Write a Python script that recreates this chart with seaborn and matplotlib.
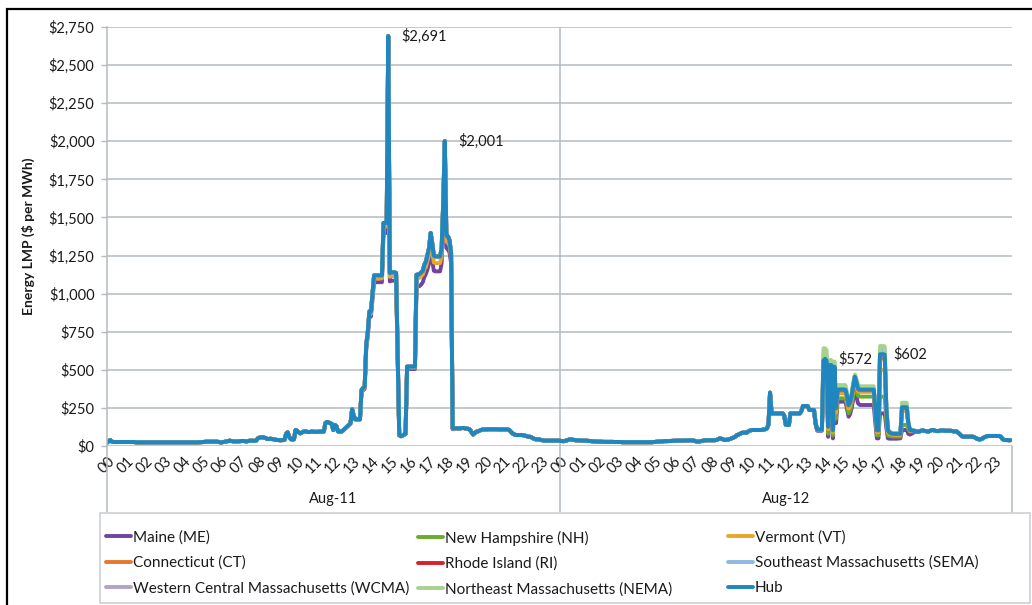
import matplotlib
matplotlib.use("Agg")
import matplotlib.pyplot as plt
import matplotlib.transforms as mtransforms
from matplotlib.lines import Line2D
from matplotlib.patches import Rectangle
import numpy as np
import pandas as pd
import seaborn as sns

# ---------------- data (5-minute LMPs, $/MWh) ----------------
zones = ["Maine (ME)", "New Hampshire (NH)", "Vermont (VT)",
         "Connecticut (CT)", "Rhode Island (RI)", "Southeast Massachusetts (SEMA)",
         "Western Central Massachusetts (WCMA)", "Northeast Massachusetts (NEMA)", "Hub"]
zone_colors = ["#7044A0", "#6AAB2E", "#E9A62B", "#E8772E", "#D81F2A",
               "#8DB8E3", "#B3A2C7", "#A6D38C", "#1F86BF"]
days = ["Aug-11", "Aug-12"]
hour_labels = [f"{h:02d}" for h in range(24)]

hub_aug11 = [
    [22, 30, 39, 30, 26, 26, 26, 26, 26, 26, 26, 26],
    [26, 26, 26, 26, 26, 26, 25, 24, 24, 24, 24, 24],
    [24, 24, 24, 24, 24, 24, 24, 24, 24, 24, 24, 24],
    [24, 24, 24, 24, 24, 24, 24, 24, 24, 24, 24, 24],
    [24, 24, 24, 24, 24, 24, 24, 24, 24, 24, 24, 25],
    [25, 26, 27, 28, 28, 28, 28, 28, 28, 28, 28, 27],
    [24, 24, 26, 28, 30, 32, 35, 33, 31, 30, 30, 30],
    [31, 32, 33, 33, 31, 30, 33, 35, 35, 34, 34, 36],
    [50, 55, 57, 57, 55, 52, 46, 46, 48, 46, 44, 42],
    [40, 39, 38, 38, 39, 40, 80, 90, 60, 45, 42, 44],
    [105, 100, 90, 83, 88, 94, 96, 94, 92, 92, 94, 94],
    [93, 93, 93, 94, 94, 94, 95, 150, 158, 155, 150, 145],
    [105, 138, 130, 96, 94, 94, 100, 110, 120, 130, 140, 149],
    [241, 200, 175, 175, 175, 175, 368, 380, 390, 664, 750, 883],
    [883, 1000, 1120, 1120, 1120, 1120, 1120, 1120, 1464, 1464, 1464, 2691],
    [1135, 1140, 1140, 1140, 1135, 600, 72, 65, 68, 75, 80, 521],
    [521, 521, 521, 521, 521, 1124, 1124, 1130, 1140, 1150, 1190, 1210],
    [1255, 1300, 1398, 1330, 1250, 1244, 1244, 1244, 1244, 1300, 1600, 2001],
    [1380, 1376, 1350, 1266, 116, 116, 116, 116, 116, 116, 118, 118],
    [115, 115, 112, 108, 90, 75, 85, 94, 95, 100, 105, 108],
    [108, 109, 109, 110, 110, 110, 110, 110, 110, 109, 109, 109],
    [109, 109, 109, 109, 105, 95, 83, 78, 72, 72, 72, 72],
    [72, 70, 68, 65, 61, 61, 58, 52, 46, 44, 44, 44],
    [40, 38, 36, 35, 35, 35, 35, 35, 35, 35, 35, 35],
]
hub_aug12 = [
    [35, 33, 32, 32, 35, 38, 42, 44, 42, 40, 38, 37],
    [37, 36, 36, 35, 35, 35, 34, 33, 32, 31, 30, 30],
    [29, 28, 28, 28, 27, 27, 27, 27, 27, 27, 27, 26],
    [26, 26, 26, 26, 25, 25, 25, 25, 25, 25, 25, 25],
    [25, 25, 25, 25, 25, 25, 25, 25, 25, 25, 25, 25],
    [26, 27, 28, 29, 30, 30, 31, 32, 32, 32, 33, 33],
    [34, 34, 35, 35, 35, 35, 35, 35, 36, 36, 36, 37],
    [37, 36, 34, 30, 28, 30, 32, 34, 36, 38, 38, 38],
    [38, 38, 38, 38, 40, 45, 50, 48, 44, 40, 40, 42],
    [44, 48, 52, 56, 62, 72, 75, 80, 86, 88, 88, 86],
    [95, 100, 104, 105, 105, 105, 105, 105, 105, 106, 108, 110],
    [115, 140, 350, 214, 214, 214, 214, 214, 214, 214, 214, 200],
    [140, 138, 138, 214, 214, 214, 214, 214, 214, 214, 230, 263],
    [262, 262, 262, 236, 236, 236, 236, 150, 109, 109, 109, 109],
    [560, 572, 560, 127, 531, 531, 105, 520, 250, 370, 370, 370],
    [370, 370, 370, 330, 269, 290, 335, 400, 455, 420, 378, 370],
    [370, 370, 370, 370, 370, 370, 370, 370, 370, 250, 105, 105],
    [602, 602, 602, 600, 250, 105, 90, 85, 80, 80, 80, 80],
    [80, 80, 254, 254, 254, 254, 150, 105, 105, 100, 100, 94],
    [94, 95, 100, 102, 100, 98, 96, 96, 100, 105, 105, 100],
    [98, 98, 100, 102, 102, 100, 100, 100, 100, 100, 98, 96],
    [96, 94, 85, 75, 65, 61, 61, 61, 61, 61, 61, 61],
    [58, 52, 46, 44, 44, 48, 55, 60, 64, 66, 66, 66],
    [66, 66, 66, 66, 66, 60, 45, 40, 39, 39, 38, 38],
]

# zone prices that differ from the Hub during congestion
# window 1: Aug-11 13:30-18:25, window 2: Aug-12 13:30-18:55
me_aug11_1330 = [355, 365, 375, 640, 720, 850,
                 850, 960, 1075, 1075, 1075, 1075, 1075, 1075, 1398, 1398, 1398, 2640,
                 1080, 1085, 1085, 1085, 1080, 575, 70, 63, 66, 72, 77, 505,
                 505, 505, 505, 505, 505, 1047, 1047, 1050, 1060, 1075, 1110, 1130,
                 1160, 1200, 1300, 1220, 1150, 1146, 1146, 1146, 1146, 1200, 1540, 1960,
                 1300, 1290, 1270, 1200, 110, 110]
vt_aug11_1330 = [362, 372, 383, 652, 738, 868,
                 868, 985, 1100, 1100, 1100, 1100, 1100, 1100, 1440, 1440, 1440, 2670,
                 1110, 1115, 1115, 1115, 1110, 590, 71, 64, 67, 74, 79, 515,
                 515, 515, 515, 515, 515, 1100, 1100, 1105, 1115, 1125, 1160, 1175,
                 1215, 1255, 1350, 1280, 1205, 1200, 1200, 1200, 1200, 1255, 1570, 1980,
                 1340, 1335, 1315, 1235, 113, 113]
me_aug12_1330 = [230, 140, 100, 100, 100, 100,
                 420, 430, 420, 60, 400, 400, 50, 390, 150, 291, 291, 291,
                 291, 291, 291, 240, 192, 210, 250, 310, 360, 320, 280, 270,
                 269, 269, 269, 269, 269, 269, 269, 269, 269, 150, 50, 50,
                 214, 214, 214, 212, 120, 50, 48, 48, 48, 48, 48, 48,
                 50, 50, 105, 105, 105, 105, 80, 75, 80, 85, 90, 92]
nh_aug12_1330 = [233, 145, 104, 104, 104, 104,
                 470, 480, 470, 80, 440, 440, 70, 430, 180, 313, 313, 313,
                 313, 313, 313, 270, 215, 235, 280, 340, 400, 360, 330, 324,
                 324, 324, 324, 324, 324, 324, 324, 324, 324, 190, 70, 70,
                 324, 324, 324, 322, 160, 70, 65, 65, 62, 62, 62, 62,
                 62, 62, 138, 138, 138, 138, 110, 95, 95, 95, 95, 92]
vt_aug12_1330 = [235, 148, 107, 107, 107, 107,
                 540, 545, 535, 110, 505, 505, 90, 495, 220, 345, 345, 345,
                 345, 345, 345, 305, 245, 265, 310, 375, 430, 395, 360, 355,
                 355, 355, 355, 355, 355, 355, 355, 355, 355, 225, 90, 90,
                 499, 499, 499, 497, 210, 90, 80, 75, 72, 72, 72, 72,
                 72, 72, 230, 230, 230, 230, 135, 100, 100, 98, 98, 94]
ct_aug12_1330 = [236, 150, 108, 108, 108, 108,
                 560, 565, 555, 125, 525, 525, 100, 515, 245, 365, 365, 365,
                 365, 365, 365, 325, 265, 285, 330, 395, 450, 415, 372, 365,
                 365, 365, 365, 365, 365, 365, 365, 365, 365, 245, 100, 100,
                 575, 575, 575, 573, 240, 100, 88, 82, 78, 78, 78, 78,
                 78, 78, 248, 248, 248, 248, 147, 104, 104, 100, 100, 94]
sema_aug12_1330 = [236, 150, 110, 110, 110, 110,
                   600, 605, 590, 130, 545, 545, 108, 535, 255, 382, 382, 382,
                   382, 382, 382, 340, 275, 295, 340, 408, 462, 428, 385, 380,
                   380, 380, 380, 380, 380, 380, 380, 380, 380, 255, 107, 107,
                   630, 630, 630, 628, 260, 107, 92, 86, 81, 81, 81, 81,
                   81, 81, 265, 265, 265, 265, 155, 106, 106, 100, 100, 94]
nema_aug12_1330 = [240, 155, 112, 112, 112, 112,
                   641, 641, 630, 135, 564, 564, 110, 555, 265, 400, 400, 400,
                   400, 400, 400, 350, 285, 305, 350, 420, 470, 440, 400, 395,
                   392, 392, 392, 392, 392, 392, 392, 392, 392, 265, 110, 110,
                   656, 656, 656, 654, 270, 110, 95, 88, 83, 83, 83, 83,
                   83, 83, 284, 284, 284, 284, 165, 108, 108, 102, 102, 96]

# ---------------- assemble long table ----------------
hub = [v for hr in hub_aug11 for v in hr] + [v for hr in hub_aug12 for v in hr]
steps_per_hour = 12
w1 = 13 * steps_per_hour + 6
w2 = 24 * steps_per_hour + 13 * steps_per_hour + 6


def zone_series(win1=None, win2=None):
    s = list(hub)
    if win1 is not None:
        s[w1:w1 + len(win1)] = win1
    if win2 is not None:
        s[w2:w2 + len(win2)] = win2
    return s


series = {
    "Maine (ME)": zone_series(me_aug11_1330, me_aug12_1330),
    "New Hampshire (NH)": zone_series(None, nh_aug12_1330),
    "Vermont (VT)": zone_series(vt_aug11_1330, vt_aug12_1330),
    "Connecticut (CT)": zone_series(None, ct_aug12_1330),
    "Rhode Island (RI)": zone_series(),
    "Southeast Massachusetts (SEMA)": zone_series(None, sema_aug12_1330),
    "Western Central Massachusetts (WCMA)": zone_series(),
    "Northeast Massachusetts (NEMA)": zone_series(None, nema_aug12_1330),
    "Hub": hub,
}
n = len(hub)
df = pd.concat([pd.DataFrame({"t": np.arange(n), "price": series[z], "zone": z})
                for z in zones], ignore_index=True)

# ---------------- styling ----------------
sns.set_theme(style="white")
plt.rcParams["font.family"] = ["Lato", "DejaVu Sans"]
grid_c = "#B4BAC0"
txt_c = "#1a1a1a"

W, H = 1032, 605
fig = plt.figure(figsize=(W / 100, H / 100), dpi=100)
L, R, T, B = 107, 1012, 27, 446
ax = fig.add_axes([L / W, 1 - B / H, (R - L) / W, (B - T) / H])

palette = dict(zip(zones, zone_colors))
sns.lineplot(data=df[df.zone != "Hub"], x="t", y="price", hue="zone",
             hue_order=zones[:-1], palette=palette, linewidth=2.8,
             estimator=None, sort=False, legend=False, ax=ax)
sns.lineplot(data=df[df.zone == "Hub"], x="t", y="price", color=palette["Hub"],
             linewidth=2.9, estimator=None, sort=False, legend=False, ax=ax)

ax.set_xlim(0, n)
ax.set_ylim(0, 2750)
yt = np.arange(0, 2751, 250)
ax.set_yticks(yt)
ax.set_yticklabels([f"${v:,.0f}" for v in yt], fontsize=10.5, color=txt_c)
ax.tick_params(axis="y", length=4, width=1, color=grid_c, pad=5, left=True)
for v in yt:
    ax.axhline(v, color=grid_c, lw=1.1, zorder=0)
for s in ["top", "right", "bottom"]:
    ax.spines[s].set_visible(False)
ax.spines["left"].set_color(grid_c)
ax.spines["left"].set_linewidth(1.1)
ax.set_xlabel("")
ax.set_ylabel("Energy LMP ($ per MWh)", fontsize=10, fontweight="bold",
              color=txt_c, labelpad=10)

xt = [d * 24 * steps_per_hour + h * steps_per_hour for d in range(2) for h in range(24)]
ax.set_xticks(xt)
ax.set_xticklabels(hour_labels * 2, rotation=45, ha="center", va="top",
                   fontsize=10.5, color=txt_c)
ax.tick_params(axis="x", length=0, pad=6)

# day separators and day labels
day_len = 24 * steps_per_hour
ax.axvline(day_len, color=grid_c, lw=1.1, zorder=0)
trans = mtransforms.blended_transform_factory(ax.transData, ax.transAxes)
ext = -(512 - B) / (B - T)
for xd in [0, day_len, 2 * day_len]:
    ax.add_line(Line2D([xd, xd], [0, ext], transform=trans, color=grid_c,
                       lw=1.1, clip_on=False))
for i, d in enumerate(days):
    ax.text(i * day_len + day_len / 2, -(499 - B) / (B - T), d, transform=trans,
            ha="center", va="center", fontsize=10.5, color=txt_c)

# peak labels
hub_arr = np.array(hub)
for lo, hi in [(170, 190), (205, 225), (day_len + 160, day_len + 180),
               (day_len + 195, day_len + 215)]:
    i = lo + int(np.argmax(hub_arr[lo:hi]))
    ax.annotate(f"${hub_arr[i]:,.0f}", xy=(i, hub_arr[i]), xytext=(9.5, 0),
                textcoords="offset points", ha="left", va="center",
                fontsize=10.5, color=txt_c)

# legend (three columns, rows filled left to right)
fig.add_artist(Rectangle((100 / W, 1 - 603 / H), 930 / W, (603 - 513) / H,
                         transform=fig.transFigure, fill=False,
                         edgecolor="#C8CDD2", lw=1.1))
col_x = [106, 418, 728]
for c in range(3):
    handles = [Line2D([], [], color=palette[zones[r * 3 + c]], lw=2.8)
               for r in range(3)]
    labels = [zones[r * 3 + c] for r in range(3)]
    fig.legend(handles, labels, loc="upper left",
               bbox_to_anchor=(col_x[c] / W, 1 - 530.5 / H),
               frameon=False, fontsize=11, handlelength=1.65,
               handletextpad=0.12, labelspacing=0.72, borderpad=0,
               borderaxespad=0, labelcolor=txt_c)

# outer chart frame
fig.add_artist(Rectangle((7 / W, -0.1), 1.2, 1 - 9 / H + 0.1,
                         transform=fig.transFigure, fill=False,
                         edgecolor="black", lw=1.6))

fig.savefig("out.png", dpi=100)
